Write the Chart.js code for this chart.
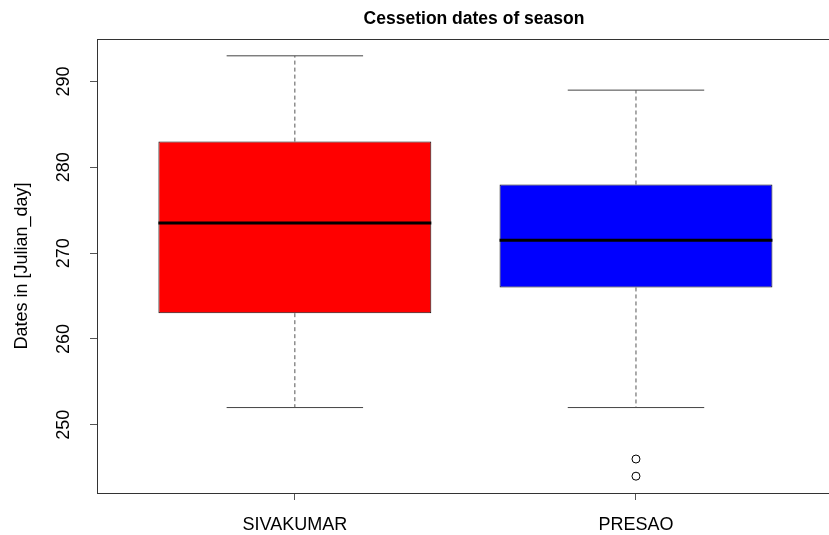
<!DOCTYPE html>
<html>
<head>
<meta charset="utf-8">
<script src="https://cdn.jsdelivr.net/npm/chart.js@4"></script>
<style>
  html, body { margin: 0; padding: 0; overflow: hidden; background: #fff; }
  #box { display: block; }
</style>
</head>
<body>
<canvas id="box" width="948" height="535"></canvas>
<script>
// Boxplot statistics
const groups = ['SIVAKUMAR', 'PRESAO'];
const lowerWhisker = [252, 252];
const q1 = [263, 266];
const median = [273.5, 271.5];
const q3 = [283, 278];
const upperWhisker = [293, 289];
const outliers = [[], [246, 244]];
const boxColors = ['#ff0000', '#0000ff'];
const yTicks = [250, 260, 270, 280, 290];

const FONT = "'Liberation Sans', Arial, sans-serif";

// Build line segments, separated by null gaps
function segments(fn) {
    return groups.flatMap((g, i) => fn(i + 1, i).concat([{ x: i + 1.5, y: null }]));
}

const medianPts = segments((x, i) => [{ x: x - 0.4, y: median[i] }, { x: x + 0.4, y: median[i] }]);
const stemPts = segments((x, i) => [
    { x: x, y: q3[i] }, { x: x, y: upperWhisker[i] }, { x: x, y: null },
    { x: x, y: q1[i] }, { x: x, y: lowerWhisker[i] }
]);
const capPts = segments((x, i) => [
    { x: x - 0.2, y: upperWhisker[i] }, { x: x + 0.2, y: upperWhisker[i] }, { x: x, y: null },
    { x: x - 0.2, y: lowerWhisker[i] }, { x: x + 0.2, y: lowerWhisker[i] }
]);
const outlierPts = groups.flatMap((g, i) => outliers[i].map(v => ({ x: i + 1, y: v })));

// Frame + rotated y tick labels, the way R draws them
const framePlugin = {
    id: 'frame',
    afterDraw(chart) {
        const { ctx, chartArea, scales } = chart;
        ctx.save();
        ctx.strokeStyle = '#333';
        ctx.lineWidth = 1;
        ctx.strokeRect(chartArea.left + 0.5, chartArea.top + 0.5,
            chartArea.right - chartArea.left, chartArea.bottom - chartArea.top);
        ctx.fillStyle = '#000';
        ctx.font = '18px ' + FONT;
        ctx.textAlign = 'center';
        ctx.textBaseline = 'middle';
        yTicks.forEach(v => {
            ctx.save();
            ctx.translate(chartArea.left - 33, scales.y.getPixelForValue(v));
            ctx.rotate(-Math.PI / 2);
            ctx.fillText(String(v), 0, 0);
            ctx.restore();
        });
        ctx.restore();
    }
};

new Chart(document.getElementById('box'), {
    type: 'bar',
    data: {
        datasets: [
            {
                type: 'bar',
                data: groups.map((g, i) => ({ x: i + 1, y: [q1[i], q3[i]] })),
                backgroundColor: boxColors,
                borderColor: '#111',
                borderWidth: 1,
                borderSkipped: false,
                categoryPercentage: 1,
                barPercentage: 0.8,
                order: 1
            },
            {
                type: 'line',
                data: medianPts,
                borderColor: '#000',
                borderWidth: 3,
                pointRadius: 0,
                spanGaps: false,
                order: 0
            },
            {
                type: 'line',
                data: stemPts,
                borderColor: '#555',
                borderWidth: 1,
                borderDash: [4, 3],
                pointRadius: 0,
                spanGaps: false,
                order: 0
            },
            {
                type: 'line',
                data: capPts,
                borderColor: '#444',
                borderWidth: 1,
                pointRadius: 0,
                spanGaps: false,
                order: 0
            },
            {
                type: 'line',
                data: outlierPts,
                showLine: false,
                pointStyle: 'circle',
                pointRadius: 4,
                pointBorderWidth: 1,
                pointBorderColor: '#000',
                pointBackgroundColor: '#fff',
                order: 0
            }
        ]
    },
    options: {
        responsive: false,
        animation: false,
        layout: { padding: 0 },
        plugins: {
            legend: { display: false },
            tooltip: { enabled: false },
            title: {
                display: true,
                text: 'Cessetion dates of season',
                color: '#000',
                font: { family: FONT, size: 17.5, weight: 'bold', lineHeight: 1.2 },
                padding: { top: 9, bottom: 9 }
            }
        },
        scales: {
            x: {
                type: 'linear',
                min: 0.42,
                max: 2.9,
                offset: false,
                afterBuildTicks: s => { s.ticks = groups.map((g, i) => ({ value: i + 1 })); },
                afterFit: s => { s.height = 42; },
                grid: { offset: false, drawOnChartArea: false, drawTicks: true, tickLength: 7, color: '#555' },
                border: { color: '#222' },
                ticks: {
                    color: '#000',
                    font: { family: FONT, size: 18 },
                    padding: 14,
                    maxRotation: 0,
                    autoSkip: false,
                    callback: v => groups[v - 1]
                }
            },
            y: {
                min: 242.04,
                max: 294.96,
                afterBuildTicks: s => { s.ticks = yTicks.map(v => ({ value: v })); },
                afterFit: s => { s.width = 97; },
                grid: { drawOnChartArea: false, drawTicks: true, tickLength: 7, color: '#555' },
                border: { color: '#444' },
                ticks: { display: false },
                title: {
                    display: true,
                    text: 'Dates in [Julian_day]',
                    color: '#000',
                    font: { family: FONT, size: 18 },
                    padding: { top: 11, bottom: 0 }
                }
            }
        }
    },
    plugins: [framePlugin]
});
</script>
</body>
</html>
